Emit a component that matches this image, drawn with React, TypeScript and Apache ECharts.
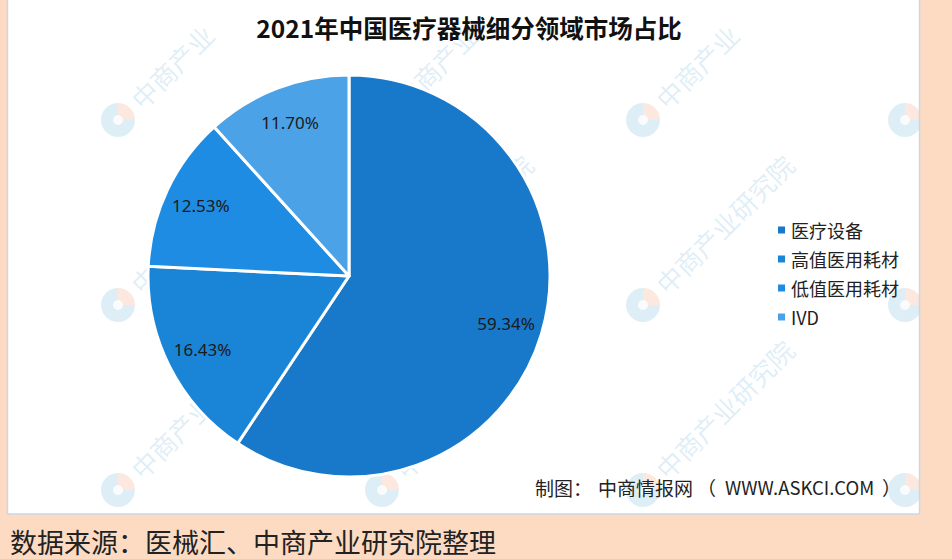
import React, { useEffect, useRef } from "react";
import * as echarts from "echarts";

const chartTitle = "2021年中国医疗器械细分领域市场占比";
const categories = ["医疗设备", "高值医用耗材", "低值医用耗材", "IVD"];
const shares = [59.34, 16.43, 12.53, 11.7];
const creditParts = ["制图：", "中商情报网", "（", "WWW.ASKCI.COM", "）"];
const sourceText = "数据来源：医械汇、中商产业研究院整理";
const watermarkText = "中商产业研究院";

const palette = ["#1878C9", "#1A84D6", "#1E8CE2", "#4BA2E7"];
const PEACH = "#FDDBC3";

export default function App() {
  const ref = useRef<HTMLDivElement>(null);

  useEffect(() => {
    if (!ref.current) return;
    const chart = echarts.init(ref.current, undefined, { renderer: "svg" });

    const wmXs = [118, 382, 643, 905];
    const wmYs = [120, 305, 490];
    const charStep = 26;
    const diag = Math.SQRT1_2;
    const watermarks: any[] = [];
    wmYs.forEach((y) =>
      wmXs.forEach((x) => {
        // keep only the characters that stay inside the white panel
        let n = 0;
        for (let k = 1; k <= watermarkText.length; k++) {
          const d = 24 + k * charStep;
          if (y - d * diag - 22 > 0 && x + d * diag + 22 < 918) n = k;
        }
        const children: any[] = [
          {
            type: "sector",
            shape: { cx: 0, cy: 0, r: 17, r0: 0, startAngle: 0, endAngle: Math.PI * 1.5 },
            style: { fill: "#5BA8D8", opacity: 0.2 },
          },
          {
            type: "sector",
            shape: { cx: 0, cy: 0, r: 17, r0: 0, startAngle: -Math.PI / 2, endAngle: 0 },
            style: { fill: "#F5A27A", opacity: 0.25 },
          },
          {
            type: "circle",
            shape: { cx: 0, cy: 0, r: 5 },
            style: { fill: "#fff", opacity: 0.8 },
          },
        ];
        if (n > 0) {
          children.push({
            type: "text",
            x: 0,
            y: 0,
            rotation: Math.PI / 4,
            style: {
              text: watermarkText.slice(0, n),
              x: 24,
              y: 0,
              fill: "#5BA8D8",
              opacity: 0.2,
              font: '26px "Noto Sans CJK SC"',
              textAlign: "left",
              textVerticalAlign: "middle",
            },
          });
        }
        watermarks.push({ type: "group", x, y, z: 50, silent: true, children });
      })
    );

    const creditX = [535, 598, 697, 725, 882];
    const creditSize = [19, 19, 19, 18.5, 19];
    const credit = creditParts.map((t, i) => ({
      type: "text",
      z: 62,
      x: creditX[i],
      y: 487,
      style: {
        text: t,
        fill: "#222",
        font: `${creditSize[i]}px "Noto Sans CJK SC"`,
        textAlign: "left",
        textVerticalAlign: "middle",
      },
    }));

    const option: any = {
      animation: false,
      backgroundColor: "#ffffff",
      title: {
        text: chartTitle,
        left: 464,
        top: 10,
        textAlign: "center",
        textStyle: {
          fontFamily: '"Noto Sans CJK SC"',
          fontSize: 24.5,
          fontWeight: "bold",
          color: "#111",
        },
      },
      legend: {
        orient: "vertical",
        left: 771,
        top: 216,
        itemWidth: 9,
        itemHeight: 9,
        itemGap: 11,
        icon: "rect",
        selectedMode: false,
        textStyle: {
          fontFamily: '"Noto Sans CJK SC"',
          fontSize: 18,
          lineHeight: 18,
          color: "#222",
        },
        data: categories.map((name, i) => ({ name, itemStyle: { color: palette[i] } })),
      },
      graphic: [
        ...watermarks,
        { type: "rect", z: 60, silent: true, shape: { x: 0, y: 0, width: 7, height: 559 }, style: { fill: PEACH } },
        { type: "rect", z: 60, silent: true, shape: { x: 920, y: 0, width: 32, height: 559 }, style: { fill: PEACH } },
        { type: "rect", z: 60, silent: true, shape: { x: 0, y: 514, width: 952, height: 45 }, style: { fill: PEACH } },
        {
          type: "rect",
          z: 61,
          silent: true,
          shape: { x: 7.5, y: -2, width: 912, height: 516 },
          style: { fill: "none", stroke: "#C9D8E6", lineWidth: 1.5 },
        },
        ...credit,
        {
          type: "text",
          z: 62,
          x: 10,
          y: 541,
          style: {
            text: sourceText,
            fill: "#222",
            font: '27px "Noto Sans CJK SC"',
            textAlign: "left",
            textVerticalAlign: "middle",
          },
        },
      ],
      series: [
        {
          type: "pie",
          name: "share",
          center: [349, 276],
          radius: 201,
          startAngle: 90,
          clockwise: true,
          silent: true,
          label: { show: false },
          labelLine: { show: false },
          itemStyle: { borderColor: "#ffffff", borderWidth: 3 },
          data: categories.map((name, i) => ({ name, value: shares[i], itemStyle: { color: palette[i] } })),
        },
        {
          type: "pie",
          name: "labels",
          center: [349, 276],
          radius: [121, 201],
          startAngle: 90,
          clockwise: true,
          silent: true,
          itemStyle: { color: "rgba(0,0,0,0)", borderWidth: 0 },
          label: {
            show: true,
            position: "inside",
            formatter: (p: any) => Number(p.value).toFixed(2) + "%",
            fontFamily: '"Noto Sans"',
            fontSize: 17,
            color: "#1a1a1a",
          },
          labelLine: { show: false },
          emphasis: { disabled: true },
          data: categories.map((name, i) => ({ name, value: shares[i] })),
        },
      ],
    };

    chart.setOption(option);
    return () => chart.dispose();
  }, []);

  return (
    <div
      ref={ref}
      style={{ position: "fixed", left: 0, top: 0, width: 952, height: 559 }}
    />
  );
}
